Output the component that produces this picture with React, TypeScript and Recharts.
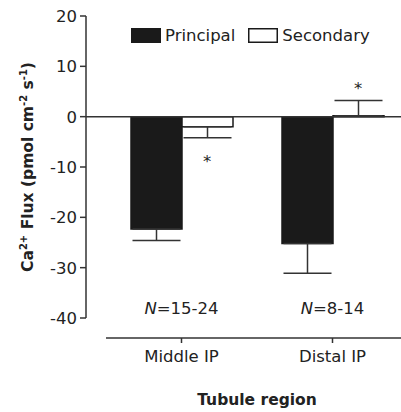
import React from "react";
import {
  BarChart,
  Bar,
  XAxis,
  YAxis,
  ErrorBar,
  ReferenceLine,
  ReferenceDot,
  Legend,
} from "recharts";

// values (pmol cm-2 s-1)
const regions = ["Middle IP", "Distal IP"];
const principal = [-22.3, -25.2];
const principalErr = [2.3, 5.9];
const secondary = [-2.0, 0.2];
const secondaryErrLow = [2.2, 0];
const secondaryErrHigh = [0, 3.0];
const sampleSizes = ["15-24", "8-14"];
const secondarySig = ["*", "*"];
const yTicks = [-40, -30, -20, -10, 0, 10, 20];

const data = regions.map((region, i) => ({
  region,
  principal: principal[i],
  principalErr: [principalErr[i], 0],
  secondary: secondary[i],
  secondaryErr: [secondaryErrLow[i], secondaryErrHigh[i]],
}));

const FONT = "'DejaVu Sans', sans-serif";
const INK = "#222";
const BAR_SIZE = 51;
const N_LABEL_Y = -38;

const YAxisTitle = (props: any) => {
  const vb = props.viewBox;
  const cx = 33;
  const cy = vb.y + vb.height / 2;
  return (
    <text
      x={cx}
      y={cy}
      transform={`rotate(-90, ${cx}, ${cy})`}
      textAnchor="middle"
      fontWeight="bold"
      fontSize={15.5}
      fill={INK}
    >
      Ca
      <tspan dy={-6} fontSize={10}>2+</tspan>
      <tspan dy={6}> Flux (pmol cm</tspan>
      <tspan dy={-6} fontSize={10}>-2</tspan>
      <tspan dy={6}> s</tspan>
      <tspan dy={-6} fontSize={10}>-1</tspan>
      <tspan dy={6}>)</tspan>
    </text>
  );
};

const XAxisTitle = (props: any) => {
  const vb = props.viewBox;
  return (
    <text
      x={vb.x + 20 + (vb.width - 20) / 2}
      y={vb.y + 87}
      textAnchor="middle"
      fontWeight="bold"
      fontSize={15.5}
      fill={INK}
    >
      Tubule region
    </text>
  );
};

const XTick = (props: any) => (
  <text x={props.x} y={props.y + 37} textAnchor="middle" fontSize={16.5} fill={INK}>
    {props.payload.value}
  </text>
);

const renderLegend = (props: any) => (
  <div style={{ display: "flex", alignItems: "center", fontFamily: FONT, fontSize: 16.5, color: INK }}>
    {props.payload.map((entry: any, i: number) => (
      <div key={i} style={{ display: "flex", alignItems: "center", marginRight: 13 }}>
        <svg width={30} height={15} style={{ display: "block" }}>
          <rect x={0.75} y={0.75} width={28.5} height={13.5} fill={entry.color} stroke="#1a1a1a" strokeWidth={1.5} />
        </svg>
        <span style={{ marginLeft: 4 }}>{entry.value}</span>
      </div>
    ))}
  </div>
);

const sampleLabel = (text: string) => (props: any) => {
  const vb = props.viewBox;
  return (
    <text x={vb.x + vb.width / 2} y={vb.y + vb.height / 2} dy="0.35em" textAnchor="middle" fontSize={16.5} fill={INK}>
      <tspan fontStyle="italic">N</tspan>={text}
    </text>
  );
};

const starLabel = (text: string, below: boolean) => (props: any) => {
  const vb = props.viewBox;
  const cx = vb.x + vb.width / 2 + BAR_SIZE / 2;
  const cy = vb.y + vb.height / 2 + (below ? 20 : -16);
  return (
    <text x={cx} y={cy + 9.5} textAnchor="middle" fontSize={16.5} fill={INK}>
      {text}
    </text>
  );
};

export default function App() {
  return (
    <div
      style={{
        position: "absolute",
        left: 0,
        top: 0,
        width: 401,
        height: 412,
        overflow: "hidden",
        background: "#fff",
        fontFamily: FONT,
      }}
    >
      <BarChart
        width={410}
        height={412}
        data={data}
        margin={{ top: 16, right: 2, bottom: 0, left: 0 }}
        barGap={0}
      >
        <XAxis
          dataKey="region"
          height={94}
          padding={{ left: 20, right: 0 }}
          axisLine={{ stroke: "#333", strokeWidth: 1.5, transform: "translate(20 20)" }}
          tickLine={{ stroke: "#333", strokeWidth: 1.5, transform: "translate(0 20)" }}
          tickSize={5}
          tick={<XTick />}
          label={{ content: XAxisTitle }}
        />
        <YAxis
          width={86}
          domain={[-40, 20]}
          ticks={yTicks}
          interval={0}
          tickSize={6}
          tickMargin={3}
          axisLine={{ stroke: "#333", strokeWidth: 1.5 }}
          tickLine={{ stroke: "#333", strokeWidth: 1.5 }}
          tick={{ fill: INK, fontSize: 16.5 }}
          label={{ content: YAxisTitle }}
        />
        <Legend
          layout="horizontal"
          align="center"
          verticalAlign="middle"
          wrapperStyle={{ top: 25.5, left: 131, width: "auto", height: "auto" }}
          content={renderLegend}
        />
        <Bar
          dataKey="principal"
          name="Principal"
          fill="#1a1a1a"
          stroke="#1a1a1a"
          strokeWidth={1.5}
          barSize={BAR_SIZE}
          isAnimationActive={false}
        >
          <ErrorBar dataKey="principalErr" width={24} stroke="#333" strokeWidth={1.5} isAnimationActive={false} />
        </Bar>
        <Bar
          dataKey="secondary"
          name="Secondary"
          fill="#ffffff"
          stroke="#1a1a1a"
          strokeWidth={1.5}
          barSize={BAR_SIZE}
          isAnimationActive={false}
        >
          <ErrorBar dataKey="secondaryErr" width={24} stroke="#333" strokeWidth={1.5} isAnimationActive={false} />
        </Bar>
        <ReferenceLine y={0} stroke="#333" strokeWidth={1.5} />
        {regions.map((r, i) => (
          <ReferenceDot
            key={"n" + r}
            x={r}
            y={N_LABEL_Y}
            r={0}
            fill="none"
            stroke="none"
            label={{ content: sampleLabel(sampleSizes[i]) }}
          />
        ))}
        {regions.map((r, i) => {
          const below = secondaryErrLow[i] > 0;
          const end = below ? secondary[i] - secondaryErrLow[i] : secondary[i] + secondaryErrHigh[i];
          return (
            <ReferenceDot
              key={"s" + r}
              x={r}
              y={end}
              r={0}
              fill="none"
              stroke="none"
              label={{ content: starLabel(secondarySig[i], below) }}
            />
          );
        })}
      </BarChart>
    </div>
  );
}
